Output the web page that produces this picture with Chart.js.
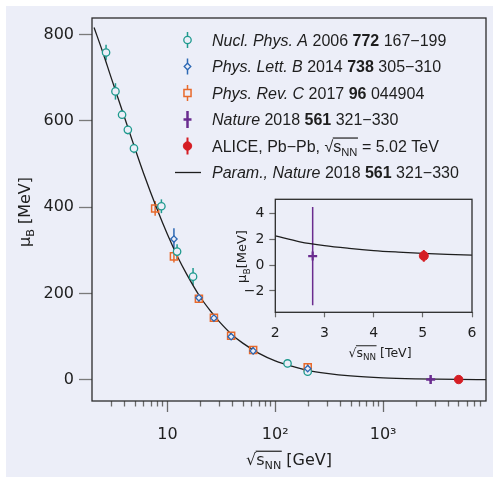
<!DOCTYPE html>
<html><head><meta charset="utf-8">
<script src="https://cdn.jsdelivr.net/npm/chart.js@4.4.1/dist/chart.umd.min.js"></script>
<style>
html,body{margin:0;padding:0;background:#fff;}
#wrap{position:relative;width:493px;height:478px;overflow:hidden;}
#bg{position:absolute;left:6px;top:6px;width:487px;height:471px;background:#eceef8;}
#main{position:absolute;left:0;top:0;}
#inset{position:absolute;left:220px;top:185px;}
</style></head><body>
<div id="wrap"><div id="bg"></div>
<canvas id="main" width="493" height="478"></canvas>
<canvas id="inset" width="265" height="180"></canvas>
</div>
<script>
// ---------- data ----------
const nuclX   = [2.7, 3.3, 3.8, 4.3, 4.9, 8.8, 12.3, 17.3, 130, 200];
const nuclY   = [758, 668, 614, 579, 536, 402, 297, 239, 38, 19];
const nuclErr = [18, 19, 10, 10, 11, 16, 17, 20, 9, 6];

const pltX   = [11.5, 19.6, 27, 39, 62.4, 200];
const pltY   = [326, 190, 143, 100, 67, 26];
const pltErr = [25, 8, 8, 8, 8, 8];

const prcX   = [7.7, 11.5, 19.6, 27, 39, 62.4, 200];
const prcY   = [397, 286, 188, 144, 102, 69, 29];
const prcErr = [17, 14, 8, 8, 8, 8, 8];

const natX   = [2760];
const natY   = [0.7];
const natErr = [3.8];

const aliceX   = [5020];
const aliceY   = [0.71];
const aliceErr = [0.45];

const paramX = [2.09, 2.5, 3, 4, 5, 6, 8, 10, 12.5, 15, 20, 25, 30, 40, 50, 70, 100, 150, 200, 300, 500, 1000, 2000, 5000, 9000];
const paramY = [816, 761, 701, 608, 536, 479, 396, 337, 284, 246, 193, 160, 136, 104, 85, 62, 44, 30, 22, 15, 9, 4.5, 2.3, 0.9, 0.5];

const xTickVals = [3,4,5,6,7,8,9,10,20,30,40,50,60,70,80,90,100,200,300,400,500,600,700,800,900,1000,2000,3000,4000,5000,6000,7000,8000];
const xMajor = [10, 100, 1000];
const xTickLabels = {10: '10', 100: '10²', 1000: '10³'};
const yTickVals = [0, 200, 400, 600, 800];

// inset (TeV)
const insNatX = [2.76], insNatY = [0.7], insNatErr = [3.8];
const insAliceX = [5.02], insAliceY = [0.72], insAliceErr = [0.45];
const insParamX = [2, 2.5, 3, 3.5, 4, 4.5, 5, 5.5, 6];
const insParamY = [2.27, 1.81, 1.51, 1.30, 1.13, 1.01, 0.91, 0.83, 0.78];
const insXTicks = [2, 3, 4, 5, 6];
const insYTicks = [-2, 0, 2, 4];

const legendRows = [
  [{t:'Nucl. Phys. A', s:'italic'}, {t:' 2006 '}, {t:'772', s:'bold'}, {t:' 167−199'}],
  [{t:'Phys. Lett. B', s:'italic'}, {t:' 2014 '}, {t:'738', s:'bold'}, {t:' 305−310'}],
  [{t:'Phys. Rev. C', s:'italic'}, {t:' 2017 '}, {t:'96', s:'bold'}, {t:' 044904'}],
  [{t:'Nature', s:'italic'}, {t:' 2018 '}, {t:'561', s:'bold'}, {t:' 321−330'}],
  [{t:'ALICE, Pb−Pb, √'}, {t:'s', ol:1}, {t:'NN', sub:1, ol:1}, {t:' = 5.02 TeV'}],
  [{t:'Param., Nature', s:'italic'}, {t:' 2018 '}, {t:'561', s:'bold'}, {t:' 321−330'}]
];

// ---------- styling ----------
const BG = '#eceef8';
const C_TEAL = '#1f9a8e', C_BLUE = '#2d68b4', C_ORANGE = '#e8692b', C_PURPLE = '#6a2c8f', C_RED = '#d51d24', C_LINE = '#1e1e1e';
const TICKF = 'DejaVu Sans';
const LEGF = 'Liberation Sans';

const pts = (xs, ys) => xs.map((x, i) => ({x, y: ys[i]}));

function drawRich(ctx, segs, x, y, size, family, align) {
  let w = 0;
  const items = segs.map(s => {
    const fs = s.sub ? size * 0.7 : size;
    const f = (s.s ? s.s + ' ' : '') + fs + 'px "' + family + '"';
    ctx.font = f;
    const mw = ctx.measureText(s.t).width;
    const it = {t: s.t, f, w: mw, dy: s.sub ? size * 0.28 : 0, ol: s.ol};
    w += mw;
    return it;
  });
  let cx = align === 'center' ? x - w / 2 : (align === 'right' ? x - w : x);
  ctx.textAlign = 'left';
  ctx.textBaseline = 'alphabetic';
  let olStart = null, olEnd = null;
  items.forEach(it => {
    ctx.font = it.f;
    ctx.fillText(it.t, cx, y + it.dy);
    if (it.ol) { if (olStart === null) olStart = cx; olEnd = cx + it.w; }
    cx += it.w;
  });
  if (olStart !== null) {
    ctx.save();
    ctx.strokeStyle = ctx.fillStyle;
    ctx.lineWidth = Math.max(1, size * 0.075);
    ctx.beginPath();
    const oy = y - size * 0.86;
    ctx.moveTo(olStart - 0.5, oy);
    ctx.lineTo(olEnd + 0.5, oy);
    ctx.stroke();
    ctx.restore();
  }
}

const errorBars = {
  id: 'errorBars',
  beforeDatasetsDraw(chart) {
    const ctx = chart.ctx, xs = chart.scales.x, ys = chart.scales.y;
    ctx.save();
    const a = chart.chartArea;
    ctx.beginPath(); ctx.rect(a.left, a.top, a.right - a.left, a.bottom - a.top); ctx.clip();
    chart.data.datasets.forEach(ds => {
      if (!ds.errs) return;
      ctx.strokeStyle = ds.borderColor;
      ctx.lineWidth = ds.errWidth || 1.5;
      ds.data.forEach((p, i) => {
        const px = xs.getPixelForValue(p.x);
        const y1 = ys.getPixelForValue(p.y - ds.errs[i]);
        const y2 = ys.getPixelForValue(p.y + ds.errs[i]);
        ctx.beginPath(); ctx.moveTo(px, y1); ctx.lineTo(px, y2); ctx.stroke();
      });
    });
    ctx.restore();
  }
};

const mainDecor = {
  id: 'mainDecor',
  afterDatasetsDraw(chart) {
    const ctx = chart.ctx, a = chart.chartArea, xs = chart.scales.x;
    ctx.save();
    // x tick marks
    ctx.strokeStyle = '#6a6a6a';
    ctx.lineWidth = 1.3;
    xTickVals.forEach(v => {
      const px = Math.round(xs.getPixelForValue(v)) + 0.5;
      const len = xMajor.includes(v) ? 11 : 5.5;
      ctx.beginPath(); ctx.moveTo(px, a.bottom); ctx.lineTo(px, a.bottom + len); ctx.stroke();
    });
    // frame
    ctx.strokeStyle = '#2b2b2b';
    ctx.lineWidth = 1.3;
    ctx.strokeRect(a.left, a.top, a.right - a.left, a.bottom - a.top);

    // axis titles
    ctx.fillStyle = '#1e1e1e';
    drawRich(ctx, [{t:'√'}, {t:'s', ol:1}, {t:'NN', sub:1, ol:1}, {t:' [GeV]'}], 289, 465, 16, TICKF, 'center');
    ctx.save();
    ctx.translate(30, 212);
    ctx.rotate(-Math.PI / 2);
    drawRich(ctx, [{t:'μ'}, {t:'B', sub:1}, {t:' [MeV]'}], 0, 0, 16, TICKF, 'center');
    ctx.restore();

    // legend
    const rowY = [40, 66.5, 93, 119.5, 146, 172.5];
    const mx = 187.5, tx = 212;
    const H = Chart.helpers;
    const marker = (i, y) => {
      ctx.save();
      const bar = (col, w, len) => { ctx.strokeStyle = col; ctx.lineWidth = w; ctx.beginPath(); ctx.moveTo(mx, y - len); ctx.lineTo(mx, y + len); ctx.stroke(); };
      if (i === 0) { bar(C_TEAL, 1.5, 8); ctx.strokeStyle = C_TEAL; ctx.fillStyle = BG; ctx.lineWidth = 1.3; H.drawPoint(ctx, {pointStyle:'circle', radius:3.7, rotation:0, borderWidth:1.3}, mx, y); }
      if (i === 1) { bar(C_BLUE, 1.5, 8); ctx.strokeStyle = C_BLUE; ctx.fillStyle = BG; ctx.lineWidth = 1.3; H.drawPoint(ctx, {pointStyle:'rectRot', radius:3.3, rotation:0, borderWidth:1.3}, mx, y); }
      if (i === 2) { bar(C_ORANGE, 1.5, 8); ctx.strokeStyle = C_ORANGE; ctx.fillStyle = BG; ctx.lineWidth = 1.5; H.drawPoint(ctx, {pointStyle:'rect', radius:5, rotation:0, borderWidth:1.5}, mx, y); }
      if (i === 3) { bar(C_PURPLE, 2.5, 8.5); ctx.strokeStyle = C_PURPLE; ctx.lineWidth = 2.5; ctx.beginPath(); ctx.moveTo(mx - 4, y); ctx.lineTo(mx + 4, y); ctx.stroke(); }
      if (i === 4) { bar(C_RED, 2, 8.5); ctx.strokeStyle = C_RED; ctx.fillStyle = C_RED; ctx.lineWidth = 1; H.drawPoint(ctx, {pointStyle:'circle', radius:4.2, rotation:0, borderWidth:1}, mx, y); }
      if (i === 5) { ctx.strokeStyle = C_LINE; ctx.lineWidth = 1.3; ctx.beginPath(); ctx.moveTo(175, y); ctx.lineTo(201, y); ctx.stroke(); }
      ctx.restore();
    };
    legendRows.forEach((row, i) => {
      marker(i, rowY[i]);
      ctx.fillStyle = '#1e1e1e';
      drawRich(ctx, row, tx, rowY[i] + 5.8, 16, LEGF, 'left');
    });
    ctx.restore();
  }
};

new Chart(document.getElementById('main'), {
  type: 'scatter',
  data: {
    datasets: [
      {label:'param', type:'line', data: pts(paramX, paramY), borderColor: C_LINE, borderWidth: 1.3, pointRadius: 0, cubicInterpolationMode: 'monotone', fill: false, order: 10},
      {label:'prc', data: pts(prcX, prcY), errs: prcErr, pointStyle:'rect', pointRadius:5, borderColor:C_ORANGE, backgroundColor:'rgba(0,0,0,0)', borderWidth:1.5, order: 5},
      {label:'nucl', data: pts(nuclX, nuclY), errs: nuclErr, pointStyle:'circle', pointRadius:3.7, borderColor:C_TEAL, backgroundColor:BG, borderWidth:1.3, order: 4},
      {label:'plb', data: pts(pltX, pltY), errs: pltErr, pointStyle:'rectRot', pointRadius:3.2, borderColor:C_BLUE, backgroundColor:BG, borderWidth:1.3, order: 3},
      {label:'nature', data: pts(natX, natY), errs: natErr, pointStyle:'cross', pointRadius:4.5, borderColor:C_PURPLE, backgroundColor:C_PURPLE, borderWidth:2.5, errWidth: 2.5, order: 2},
      {label:'alice', data: pts(aliceX, aliceY), errs: aliceErr, pointStyle:'circle', pointRadius:4.2, borderColor:C_RED, backgroundColor:C_RED, borderWidth:1, errWidth: 2, order: 1}
    ]
  },
  options: {
    responsive: false, animation: false, devicePixelRatio: 1,
    layout: {padding: {left: 6, right: 6, top: 18, bottom: 0}},
    plugins: {legend: {display: false}, tooltip: {enabled: false}},
    scales: {
      x: {
        type: 'logarithmic', min: 2, max: 9000,
        afterBuildTicks: s => { s.ticks = xTickVals.map(v => ({value: v})); },
        ticks: {autoSkip: false, maxRotation: 0, minRotation: 0, padding: 0, color: '#1e1e1e',
                font: {family: TICKF, size: 16},
                callback: v => xTickLabels[v] || ''},
        grid: {display: false, drawTicks: true, tickLength: 24},
        border: {display: false},
        afterFit: s => { s.height = 77; }
      },
      y: {
        type: 'linear', min: -49, max: 838,
        afterBuildTicks: s => { s.ticks = yTickVals.map(v => ({value: v})); },
        ticks: {padding: 5, color: '#1e1e1e', font: {family: TICKF, size: 16}},
        grid: {display: true, drawOnChartArea: false, drawTicks: true, tickLength: 13, tickColor: '#7a7a7a', tickWidth: 1.3},
        border: {display: false},
        afterFit: s => { s.width = 86; }
      }
    }
  },
  plugins: [errorBars, mainDecor]
});

const insetDecor = {
  id: 'insetDecor',
  afterDatasetsDraw(chart) {
    const ctx = chart.ctx, a = chart.chartArea;
    ctx.save();
    ctx.strokeStyle = '#2b2b2b';
    ctx.lineWidth = 1.3;
    ctx.strokeRect(a.left, a.top, a.right - a.left, a.bottom - a.top);
    ctx.fillStyle = '#1e1e1e';
    drawRich(ctx, [{t:'√'}, {t:'s', ol:1}, {t:'NN', sub:1, ol:1}, {t:' [TeV]'}], 160, 171.5, 12.5, TICKF, 'center');
    ctx.translate(26, 71.5);
    ctx.rotate(-Math.PI / 2);
    drawRich(ctx, [{t:'μ'}, {t:'B', sub:1}, {t:'[MeV]'}], 0, 0, 13, TICKF, 'center');
    ctx.restore();
  }
};

new Chart(document.getElementById('inset'), {
  type: 'scatter',
  data: {
    datasets: [
      {label:'param', type:'line', data: pts(insParamX, insParamY), borderColor: C_LINE, borderWidth: 1.3, pointRadius: 0, cubicInterpolationMode: 'monotone', fill: false, order: 10},
      {label:'nature', data: pts(insNatX, insNatY), errs: insNatErr, pointStyle:'cross', pointRadius:4.5, borderColor:C_PURPLE, backgroundColor:C_PURPLE, borderWidth:2.2, errWidth: 1.5, order: 2},
      {label:'alice', data: pts(insAliceX, insAliceY), errs: insAliceErr, pointStyle:'circle', pointRadius:4.5, borderColor:C_RED, backgroundColor:C_RED, borderWidth:1, errWidth: 2, order: 1}
    ]
  },
  options: {
    responsive: false, animation: false, devicePixelRatio: 1,
    layout: {padding: {left: 0, right: 13, top: 14.3, bottom: 0}},
    plugins: {legend: {display: false}, tooltip: {enabled: false}},
    scales: {
      x: {
        type: 'linear', min: 2, max: 6,
        afterBuildTicks: s => { s.ticks = insXTicks.map(v => ({value: v})); },
        ticks: {padding: 8, color: '#1e1e1e', font: {family: TICKF, size: 14}, maxRotation: 0},
        grid: {display: true, drawOnChartArea: false, drawTicks: true, tickLength: 5, tickColor: '#6a6a6a', tickWidth: 1.2},
        border: {display: false},
        afterFit: s => { s.height = 52.7; }
      },
      y: {
        type: 'linear', min: -3.65, max: 5.1,
        afterBuildTicks: s => { s.ticks = insYTicks.map(v => ({value: v})); },
        ticks: {padding: 5, color: '#1e1e1e', font: {family: TICKF, size: 14},
                callback: v => (v < 0 ? '−' + Math.abs(v) : String(v))},
        grid: {display: true, drawOnChartArea: false, drawTicks: true, tickLength: 6, tickColor: '#6a6a6a', tickWidth: 1.2},
        border: {display: false},
        afterFit: s => { s.width = 55.3; }
      }
    }
  },
  plugins: [errorBars, insetDecor]
});
</script>
</body></html>
